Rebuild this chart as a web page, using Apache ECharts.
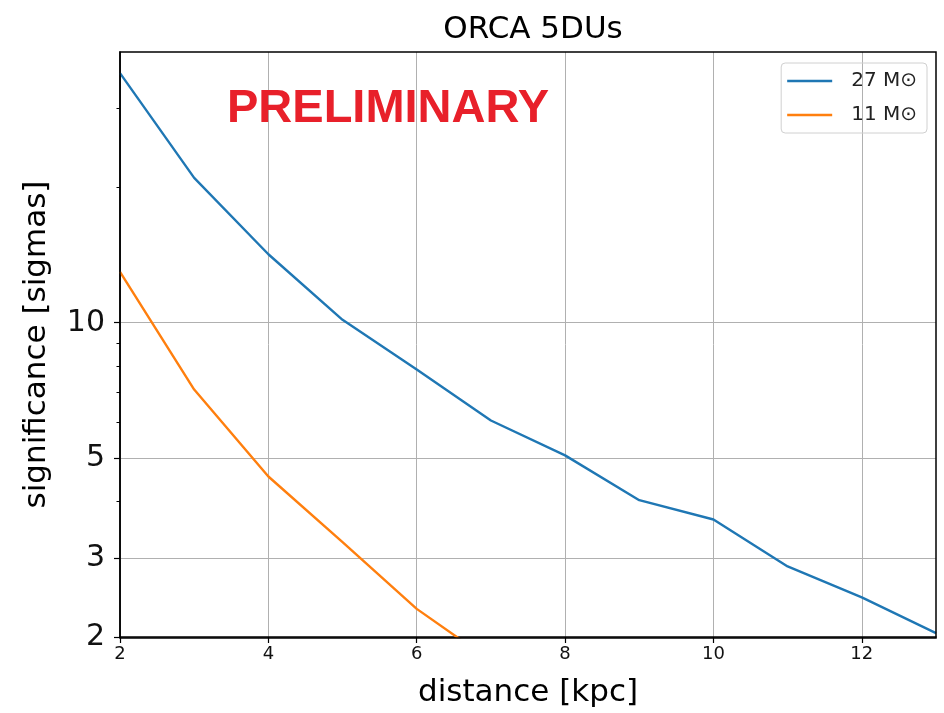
<!DOCTYPE html>
<html>
<head>
<meta charset="utf-8">
<script src="https://cdn.jsdelivr.net/npm/echarts@6/dist/echarts.min.js"></script>
<style>
  html, body { margin: 0; padding: 0; background: #fff; }
  #chart { width: 944px; height: 713px; }
</style>
</head>
<body>
<div id="chart"></div>
<script>
// Distance to the supernova (kpc)
const distances27 = [2, 3, 4, 5, 6, 7, 8, 9, 10, 11, 12, 13];
const distances11 = [2, 3, 4, 5, 6, 7];
// Detection significance (sigmas) for each progenitor mass
const sig27 = [35.9, 21.0, 14.2, 10.15, 7.87, 6.06, 5.07, 4.03, 3.65, 2.87, 2.45, 2.04];
const sig11 = [12.97, 7.1, 4.55, 3.25, 2.31, 1.77];
// Axis ticks
const xTicks = [2, 4, 6, 8, 10, 12];
const yMajorTicks = [2, 3, 5, 10];
const yMinorTicks = [4, 6, 7, 8, 9, 20, 30];

const FONT = 'DejaVu Sans';
const chart = echarts.init(document.getElementById('chart'), null, { renderer: 'canvas' });

const gridBox = { left: 120, right: 8, top: 52, bottom: 75 };

chart.setOption({
  animation: false,
  backgroundColor: '#ffffff',
  title: {
    text: 'ORCA 5DUs',
    left: 528, top: 9, textAlign: 'center',
    textStyle: { fontFamily: FONT, fontSize: 31, fontWeight: 'normal', color: '#000' }
  },
  legend: {
    right: 17, top: 63,
    orient: 'vertical',
    icon: 'rect',
    itemWidth: 45, itemHeight: 2.5, itemGap: 14,
    padding: [8, 10, 8, 6],
    borderColor: '#d0d0d0', borderWidth: 1, borderRadius: 4,
    textStyle: { fontFamily: FONT, fontSize: 20, color: '#222', padding: [0, 0, 0, 14] },
    data: ['27 M\u2299', '11 M\u2299']
  },
  grid: Object.assign({ containLabel: false }, gridBox),
  xAxis: {
    type: 'value', min: 2, max: 13, interval: 2,
    name: 'distance [kpc]', nameLocation: 'middle', nameGap: 40,
    nameTextStyle: { fontFamily: FONT, fontSize: 31, color: '#000' },
    axisLine: { show: true, onZero: false, lineStyle: { color: '#000', width: 1.5 } },
    axisTick: { show: true, length: 6, lineStyle: { color: '#000', width: 1.2 }, customValues: xTicks },
    axisLabel: { fontFamily: FONT, fontSize: 18, color: '#111', margin: 8, customValues: xTicks },
    splitLine: { show: true, lineStyle: { color: '#b0b0b0', width: 1 } }
  },
  yAxis: [
    {
      type: 'log', logBase: 10, min: 2, max: 40,
      name: 'significance [sigmas]', nameLocation: 'middle', nameGap: 68,
      nameTextStyle: { fontFamily: FONT, fontSize: 31, color: '#000' },
      axisLine: { show: true, lineStyle: { color: '#000', width: 1.5 } },
      axisTick: { show: true, length: 6, lineStyle: { color: '#000', width: 1.2 }, customValues: yMajorTicks },
      axisLabel: { fontFamily: FONT, fontSize: 30, color: '#111', margin: 15, customValues: yMajorTicks },
      splitLine: { show: true, lineStyle: { color: '#b0b0b0', width: 1 } }
    },
    {
      type: 'log', logBase: 10, min: 2, max: 40, position: 'left',
      axisLine: { show: false },
      axisTick: { show: true, length: 3.5, lineStyle: { color: '#000', width: 1 }, customValues: yMinorTicks },
      axisLabel: { show: false },
      splitLine: { show: false }
    }
  ],
  graphic: [
    {
      // plot frame (top and right spines)
      type: 'rect', silent: true, z: 10,
      shape: { x: gridBox.left, y: gridBox.top, width: 944 - gridBox.left - gridBox.right, height: 713 - gridBox.top - gridBox.bottom },
      style: { fill: 'none', stroke: '#000', lineWidth: 1.5 }
    },
    {
      type: 'text', left: 227, top: 86, z: 20,
      style: {
        text: 'PRELIMINARY',
        font: 'bold 47px "Liberation Sans", Arial, sans-serif',
        fill: '#e8202a'
      }
    }
  ],
  series: [
    {
      name: '27 M\u2299', type: 'line', symbol: 'none', clip: true,
      data: distances27.map((d, i) => [d, sig27[i]]),
      lineStyle: { color: '#1f77b4', width: 2.4 },
      itemStyle: { color: '#1f77b4' }
    },
    {
      name: '11 M\u2299', type: 'line', symbol: 'none', clip: true,
      data: distances11.map((d, i) => [d, sig11[i]]),
      lineStyle: { color: '#ff7f0e', width: 2.4 },
      itemStyle: { color: '#ff7f0e' }
    }
  ]
});
</script>
</body>
</html>
